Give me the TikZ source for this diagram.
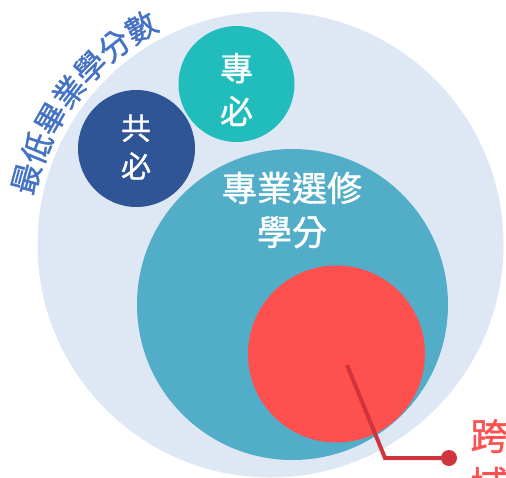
\documentclass[tikz,border=0pt]{standalone}
\usepackage{fontspec}
\setmainfont{Noto Sans CJK TC}
\newfontfamily\cjkmed[FakeBold=1.2]{Noto Sans CJK TC}
\definecolor{bgblue}{HTML}{DEE8F5}
\definecolor{midblue}{HTML}{52ADC8}
\definecolor{darkblue}{HTML}{2F5597}
\definecolor{tealc}{HTML}{21BDBD}
\definecolor{redc}{HTML}{FF5050}
\definecolor{linered}{HTML}{D0343C}
\definecolor{arctext}{HTML}{4472C4}
\tikzset{
  disc/.style={circle, inner sep=0pt, minimum size=#1},
  whitetext/.style={text=white, align=center, inner sep=0pt},
}
\begin{document}
\begin{tikzpicture}[x=1pt,y=-1pt]
\clip (0,0) rectangle (506,477);
\fill[white] (0,0) rectangle (506,477);
% circles
\node[disc=466pt, fill=bgblue] (big) at (270.5,244.5) {};
\node[disc=311pt, fill=midblue] (mid) at (292.5,304.5) {};
\node[disc=177pt, fill=redc] (red) at (336.5,354) {};
\node[disc=116pt, fill=tealc] (zhuanbi) at (236.5,84) {};
\node[disc=117pt, fill=darkblue] (gongbi) at (136.5,148.5) {};
% texts inside circles
\node[whitetext, font=\cjkmed\fontsize{30}{38}\selectfont] (gongtxt) at (136,147) {共\\必};
\node[whitetext, font=\cjkmed\fontsize{33}{43}\selectfont] (zhuantxt) at (236.5,89.5) {專\\必};
\node[whitetext, font=\cjkmed\fontsize{35}{44}\selectfont] (midtxt) at (292,210) {專業選修\\學分};
% connector
\coordinate (lstart) at (347,365);
\coordinate (lcorner) at (385,458);
\node[circle, fill=linered, inner sep=0pt, minimum size=16pt] (dot) at (449,458) {};
\draw[linered, line width=4pt, line join=miter] (lstart) -- (lcorner) -- (dot.center);
% label
\node[text=redc, align=center, inner sep=0pt, font=\cjkmed\fontsize{37}{48}\selectfont] (kuayu) at (489,460) {跨\\域};
% arc text
\foreach \c [count=\i from 0] in {最,低,畢,業,學,分,數} {
  \pgfmathsetmacro\ang{164.9-7.35*\i}
  \node[text=arctext, inner sep=0pt, rotate=\ang-90, font=\cjkmed\fontsize{31}{31}\selectfont] (arc\i)
    at ({270.5+253*cos(\ang)},{244.5-253*sin(\ang)}) {\c};
}
\end{tikzpicture}
\end{document}
